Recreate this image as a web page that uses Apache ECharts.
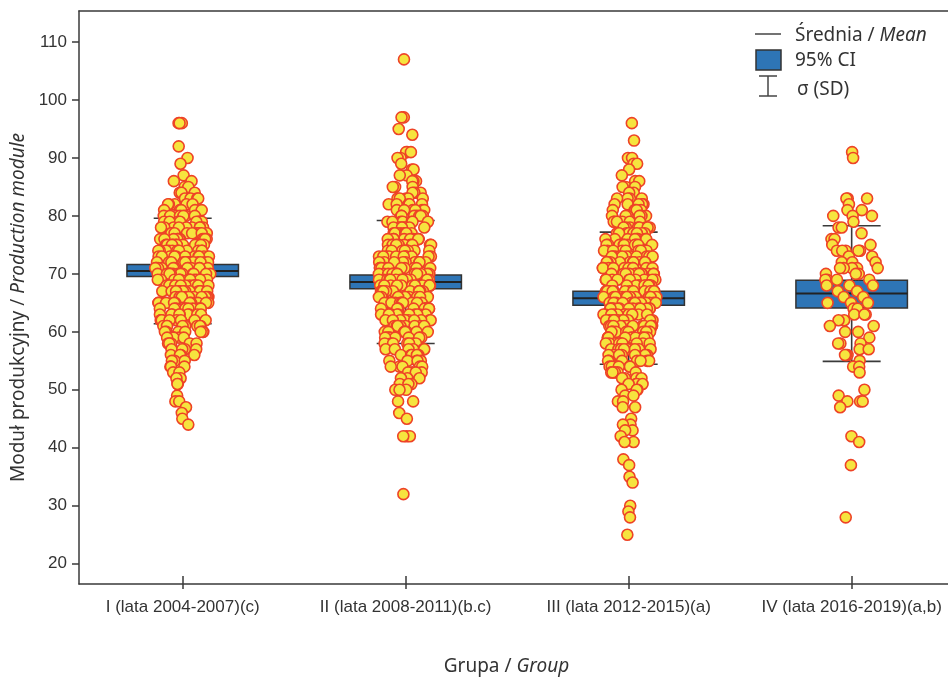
<!DOCTYPE html>
<html>
<head>
<meta charset="utf-8">
<script src="https://cdn.jsdelivr.net/npm/echarts@6/dist/echarts.min.js"></script>
<style>
  html, body { margin: 0; padding: 0; background: #fff; }
  #chart { width: 948px; height: 678px; }
</style>
</head>
<body>
<div id="chart"></div>
<script>
// Group labels on the x axis
const groupNames = [
  'I (lata 2004-2007)(c)',
  'II (lata 2008-2011)(b.c)',
  'III (lata 2012-2015)(a)',
  'IV (lata 2016-2019)(a,b)'
];

// Individual observations per group: value and how many herds share it
const group1Values = [96,92,90,89,87,86,85,84,83,82,81,80,79,78,77,76,75,74,73,72,71,70,69,68,67,66,65,64,63,62,61,60,59,58,57,56,55,54,53,52,51,49,48,47,46,45,44];
const group1Counts = [ 3, 1, 1, 1, 1, 2, 2, 3, 4, 5, 5, 7, 8, 9,10,11,11,12,12,13,13,13,13,12,12,12,11,10, 9, 9, 8, 7, 6, 5, 4, 4, 3, 3, 2, 2, 2, 1, 2, 1, 1, 1, 1];

const group2Values = [107,97,95,94,91,90,89,88,87,86,85,84,83,82,81,80,79,78,77,76,75,74,73,72,71,70,69,68,67,66,65,64,63,62,61,60,59,58,57,56,55,54,53,52,51,50,48,46,45,42,32];
const group2Counts = [  1, 2, 1, 1, 3, 2, 1, 2, 2, 3, 3, 4, 5, 5, 6, 7, 7, 8, 9, 9,10,10,11,11,11,12,12,12,11,11,11,11,10,10, 9, 9, 8, 7, 6, 6, 5, 5, 4, 3, 3, 3, 2, 1, 1, 3, 1];

const group3Values = [96,93,90,89,88,87,86,85,84,83,82,81,80,79,78,77,76,75,74,73,72,71,70,69,68,67,66,65,64,63,62,61,60,59,58,57,56,55,54,53,52,51,50,49,48,47,45,44,43,42,41,38,37,35,34,30,29,28,25];
const group3Counts = [ 1, 1, 2, 2, 1, 1, 2, 3, 3, 4, 5, 5, 6, 7, 8, 8, 9,10,10,11,11,12,12,12,13,13,13,13,13,12,12,12,11,10,10, 9, 8, 7, 6, 5, 4, 4, 3, 2, 2, 2, 1, 2, 2, 1, 2, 1, 1, 1, 1, 1, 1, 1, 1];

const group4Values = [91,90,83,82,81,80,79,78,77,76,75,74,73,72,71,70,69,68,67,66,65,64,63,62,61,60,59,58,57,56,55,54,53,50,49,48,47,42,41,37,28];
const group4Counts = [ 1, 1, 3, 1, 2, 3, 1, 2, 1, 2, 2, 5, 2, 3, 5, 3, 4, 3, 2, 2, 3, 2, 3, 2, 2, 2, 1, 3, 2, 3, 1, 2, 1, 1, 1, 3, 1, 1, 1, 1, 1];

// Summary statistics per group: mean, standard deviation, 95% confidence interval
const meanValues = [70.5, 68.6, 65.8, 66.6];
const sdValues   = [9.1, 10.6, 11.4, 11.7];
const ciLow      = [69.55, 67.45, 64.6, 64.1];
const ciHigh     = [71.6, 69.8, 67.0, 68.9];

// Axis tick labels
const yTickValues = [20, 30, 40, 50, 60, 70, 80, 90, 100, 110];
const xTickValues = [1, 2, 3, 4];

const groups = [
  [group1Values, group1Counts],
  [group2Values, group2Counts],
  [group3Values, group3Counts],
  [group4Values, group4Counts]
];

// Dots are spread sideways inside a density-shaped envelope (violin-like strip)
const MAX_SPREAD = 0.125;   // x-axis units
const BOX_HALF = 0.25;
const CAP_HALF = 0.13;

// deterministic scrambling of the dot order, gives values in [0, 1)
function scramble(n) {
  let t = Math.imul((n + 0x6d2b79f5) | 0, 0x85ebca6b);
  t = (t ^ (t >>> 13)) | 0;
  t = Math.imul(t, 0xc2b2ae35);
  t = (t ^ (t >>> 16)) >>> 0;
  return t / 4294967296;
}

function spreadGroup(values, counts, gi) {
  const pts = [];
  values.forEach((v, k) => { for (let c = 0; c < counts[k]; c++) pts.push(v); });
  const h = 2.5;
  const dens = v => pts.reduce((s, x) => s + Math.exp(-0.5 * ((v - x) / h) ** 2), 0);
  let maxD = 0;
  pts.forEach(v => { maxD = Math.max(maxD, dens(v)); });
  return pts.map((v, i) => {
    const w = MAX_SPREAD * Math.sqrt(dens(v) / maxD);
    const u = scramble(i * 7 + gi * 1009 + 11);
    return [gi + 1 + (2 * u - 1) * w, v];
  });
}

const dotData = [];
groups.forEach((g, gi) => { spreadGroup(g[0], g[1], gi).forEach(p => dotData.push(p)); });

const statData = meanValues.map((m, i) => [i + 1, m, sdValues[i], ciLow[i], ciHigh[i]]);

const AXIS_COLOR = '#3a3a3a';
const TEXT_COLOR = '#333';
const NUM_FONT = '"Liberation Sans", Arial, sans-serif';
const TITLE_FONT = '"Noto Sans", "Open Sans", sans-serif';
const TITLE_SIZE = 19;

const chart = echarts.init(document.getElementById('chart'), null, { renderer: 'canvas' });

chart.setOption({
  animation: false,
  backgroundColor: '#fff',
  grid: { left: 79, top: 11, right: 0, bottom: 94, containLabel: false, outerBoundsMode: 'none' },
  xAxis: [
    {
      type: 'value', min: 0.535, max: 4.432, position: 'bottom',
      axisLine: { show: true, lineStyle: { color: AXIS_COLOR, width: 1.5 } },
      axisTick: { show: true, inside: true, length: 8, customValues: xTickValues, lineStyle: { color: AXIS_COLOR, width: 1.5 } },
      axisLabel: {
        show: true, customValues: xTickValues, margin: 15,
        formatter: v => groupNames[Math.round(v) - 1] || '',
        color: TEXT_COLOR, fontFamily: NUM_FONT, fontSize: 17
      },
      splitLine: { show: false },
      name: '{n|Grupa / }{i|Group}', nameLocation: 'middle', nameGap: 73,
      nameTextStyle: {
        padding: [0, 14, 0, 0],
        rich: {
          n: { fontFamily: TITLE_FONT, fontSize: TITLE_SIZE, color: TEXT_COLOR },
          i: { fontFamily: TITLE_FONT, fontSize: TITLE_SIZE, color: TEXT_COLOR, fontStyle: 'italic' }
        }
      }
    },
    {
      type: 'value', min: 0.535, max: 4.432, position: 'top',
      axisLine: { show: true, lineStyle: { color: AXIS_COLOR, width: 1.5 } },
      axisTick: { show: false }, axisLabel: { show: false }, splitLine: { show: false }
    },
    {
      type: 'value', min: 0.535, max: 4.432, position: 'bottom',
      axisLine: { show: false },
      axisTick: { show: true, inside: false, length: 5, customValues: xTickValues, lineStyle: { color: AXIS_COLOR, width: 1.5 } },
      axisLabel: { show: false }, splitLine: { show: false }
    }
  ],
  yAxis: {
    type: 'value', min: 16.5, max: 115.35,
    axisLine: { show: true, lineStyle: { color: AXIS_COLOR, width: 1.5 } },
    axisTick: { show: true, length: 7, customValues: yTickValues, lineStyle: { color: AXIS_COLOR, width: 1.5 } },
    axisLabel: { customValues: yTickValues, margin: 12, color: TEXT_COLOR, fontFamily: NUM_FONT, fontSize: 17 },
    splitLine: { show: false },
    name: '{n|Moduł produkcyjny / }{i|Production module}', nameLocation: 'middle', nameGap: 50, nameRotate: 90,
    nameTextStyle: {
      padding: [0, 20, 0, 0],
      rich: {
        n: { fontFamily: TITLE_FONT, fontSize: TITLE_SIZE, color: TEXT_COLOR },
        i: { fontFamily: TITLE_FONT, fontSize: TITLE_SIZE, color: TEXT_COLOR, fontStyle: 'italic' }
      }
    }
  },
  series: [
    {
      type: 'custom',
      z: 1,
      encode: { x: 0, y: 1 },
      data: statData,
      renderItem: function (params, api) {
        const x = api.value(0), m = api.value(1), sd = api.value(2), lo = api.value(3), hi = api.value(4);
        const top = api.coord([x, m + sd]);
        const bot = api.coord([x, m - sd]);
        const capL = api.coord([x - CAP_HALF, m])[0];
        const capR = api.coord([x + CAP_HALF, m])[0];
        const boxTL = api.coord([x - BOX_HALF, hi]);
        const boxBR = api.coord([x + BOX_HALF, lo]);
        const mid = api.coord([x, m]);
        const lineStyle = { stroke: AXIS_COLOR, lineWidth: 1.6 };
        return {
          type: 'group',
          children: [
            { type: 'line', shape: { x1: top[0], y1: top[1], x2: bot[0], y2: bot[1] }, style: lineStyle },
            { type: 'line', shape: { x1: capL, y1: top[1], x2: capR, y2: top[1] }, style: lineStyle },
            { type: 'line', shape: { x1: capL, y1: bot[1], x2: capR, y2: bot[1] }, style: lineStyle },
            { type: 'rect', shape: { x: boxTL[0], y: boxTL[1], width: boxBR[0] - boxTL[0], height: boxBR[1] - boxTL[1] },
              style: { fill: '#2E75B6', stroke: '#333', lineWidth: 1.5 } },
            { type: 'line', shape: { x1: boxTL[0], y1: mid[1], x2: boxBR[0], y2: mid[1] }, style: { stroke: '#222', lineWidth: 2 } }
          ]
        };
      }
    },
    {
      type: 'scatter',
      z: 2,
      data: dotData,
      symbol: 'circle',
      symbolSize: 11,
      itemStyle: { color: '#F6E43E', borderColor: '#EE4326', borderWidth: 1.6, opacity: 1 }
    }
  ],
  graphic: [
    { type: 'line', shape: { x1: 755, y1: 34, x2: 781, y2: 34 }, style: { stroke: '#444', lineWidth: 1.5 } },
    { type: 'text', left: 795, top: 26,
      style: { text: '{n|Średnia / }{i|Mean}',
        rich: {
          n: { fontFamily: TITLE_FONT, fontSize: TITLE_SIZE, fill: TEXT_COLOR },
          i: { fontFamily: TITLE_FONT, fontSize: TITLE_SIZE, fill: TEXT_COLOR, fontStyle: 'italic' }
        } } },
    { type: 'rect', shape: { x: 756, y: 50, width: 25, height: 20 }, style: { fill: '#2E75B6', stroke: '#333', lineWidth: 1.5 } },
    { type: 'text', left: 795, top: 51, style: { text: '95% CI', fontFamily: TITLE_FONT, fontSize: TITLE_SIZE, fill: TEXT_COLOR } },
    { type: 'line', shape: { x1: 768, y1: 76, x2: 768, y2: 96 }, style: { stroke: '#444', lineWidth: 1.5 } },
    { type: 'line', shape: { x1: 759, y1: 76, x2: 777, y2: 76 }, style: { stroke: '#444', lineWidth: 1.5 } },
    { type: 'line', shape: { x1: 759, y1: 96, x2: 777, y2: 96 }, style: { stroke: '#444', lineWidth: 1.5 } },
    { type: 'text', left: 797, top: 80, style: { text: 'σ (SD)', fontFamily: TITLE_FONT, fontSize: TITLE_SIZE, fill: TEXT_COLOR } }
  ]
});
</script>
</body>
</html>
